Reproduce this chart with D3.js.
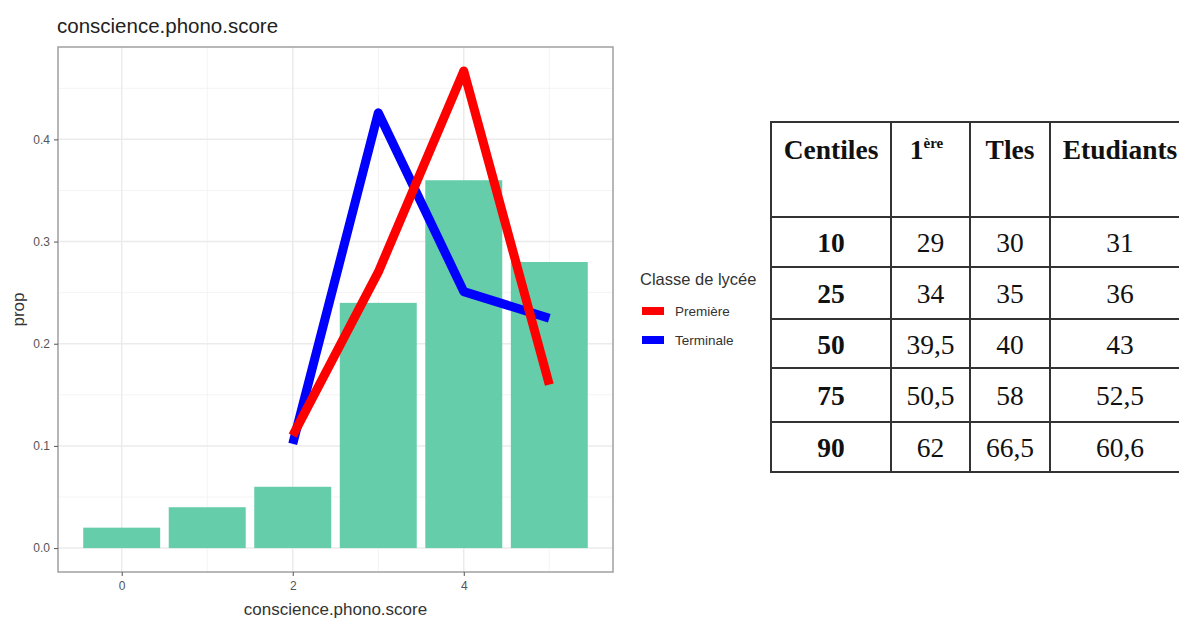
<!DOCTYPE html>
<html><head><meta charset="utf-8">
<script src="https://cdn.jsdelivr.net/npm/d3@7"></script>
<style>body{margin:0;background:#fff;} svg{display:block;}</style>
</head><body>
<svg id="c" width="1179" height="619"></svg>
<script>
// ---- data ----
const scores = [0, 1, 2, 3, 4, 5];
const barProps = [0.02, 0.04, 0.06, 0.24, 0.36, 0.28];
const lineScores = [2, 3, 4, 5];
const premiere = [0.11, 0.27, 0.467, 0.16];
const terminale = [0.102, 0.426, 0.251, 0.225];
const yTicks = [0, 0.1, 0.2, 0.3, 0.4];
const xTicks = [0, 2, 4];
const seriesNames = ["Première", "Terminale"];
const seriesColors = ["#FF0000", "#0000FF"];
const tableHeader = ["Centiles", "1", "Tles", "Etudiants"];
const centiles = ["10", "25", "50", "75", "90"];
const col1ere = ["29", "34", "39,5", "50,5", "62"];
const colTles = ["30", "35", "40", "58", "66,5"];
const colEtud = ["31", "36", "43", "52,5", "60,6"];

const svg = d3.select("#c");
const P = {l: 58, r: 613, t: 47, b: 572};
const x = d3.scaleLinear().domain([-0.745, 5.745]).range([P.l, P.r]);
const y = d3.scaleLinear().domain([-0.0234, 0.4904]).range([P.b, P.t]);
const sans = "Liberation Sans, Arial, sans-serif";

// minor grid
const xMinor = [1, 3, 5];
const yMinor = [0.05, 0.15, 0.25, 0.35, 0.45];
const g = svg.append("g");
g.selectAll(".mx").data(xMinor).enter().append("line")
  .attr("x1", d => x(d)).attr("x2", d => x(d)).attr("y1", P.t).attr("y2", P.b)
  .attr("stroke", "#F4F4F4").attr("stroke-width", 1);
g.selectAll(".my").data(yMinor).enter().append("line")
  .attr("y1", d => y(d)).attr("y2", d => y(d)).attr("x1", P.l).attr("x2", P.r)
  .attr("stroke", "#F4F4F4").attr("stroke-width", 1);
g.selectAll(".Mx").data(xTicks).enter().append("line")
  .attr("x1", d => x(d)).attr("x2", d => x(d)).attr("y1", P.t).attr("y2", P.b)
  .attr("stroke", "#EBEBEB").attr("stroke-width", 1.5);
g.selectAll(".My").data(yTicks).enter().append("line")
  .attr("y1", d => y(d)).attr("y2", d => y(d)).attr("x1", P.l).attr("x2", P.r)
  .attr("stroke", "#EBEBEB").attr("stroke-width", 1.5);

// bars
g.selectAll(".bar").data(scores).enter().append("rect")
  .attr("x", (d) => x(d - 0.45)).attr("width", x(0.45) - x(-0.45))
  .attr("y", (d, i) => y(barProps[i])).attr("height", (d, i) => y(0) - y(barProps[i]))
  .attr("fill", "#66CDAA");

// lines
const line = d3.line().x(d => x(d[0])).y(d => y(d[1]));
[terminale, premiere].forEach((vals, k) => {
  const col = k === 0 ? seriesColors[1] : seriesColors[0];
  g.append("path").datum(lineScores.map((s, i) => [s, vals[i]]))
    .attr("d", line).attr("fill", "none").attr("stroke", col)
    .attr("stroke-width", 9).attr("stroke-linejoin", "round").attr("stroke-linecap", "butt");
});

// panel border
g.append("rect").attr("x", P.l).attr("y", P.t).attr("width", P.r - P.l).attr("height", P.b - P.t)
  .attr("fill", "none").attr("stroke", "#A0A0A0").attr("stroke-width", 1.5);

// axes
const yAxis = svg.append("g").attr("transform", `translate(${P.l},0)`)
  .call(d3.axisLeft(y).tickValues(yTicks).tickFormat(d3.format(".1f")).tickSize(4).tickPadding(4));
const xAxis = svg.append("g").attr("transform", `translate(0,${P.b})`)
  .call(d3.axisBottom(x).tickValues(xTicks).tickFormat(d3.format("d")).tickSize(4).tickPadding(5));
[yAxis, xAxis].forEach(a => {
  a.select(".domain").remove();
  a.selectAll(".tick line").attr("stroke", "#555");
  a.selectAll(".tick text").attr("fill", "#555").style("font-family", sans).style("font-size", "12px");
});

// titles
svg.append("text").attr("x", 57).attr("y", 33).text("conscience.phono.score")
  .style("font-family", sans).style("font-size", "20.5px").attr("fill", "#222");
svg.append("text").attr("x", (P.l + P.r) / 2).attr("y", 615).attr("text-anchor", "middle").text("conscience.phono.score")
  .style("font-family", sans).style("font-size", "17px").attr("fill", "#333");
svg.append("text").attr("transform", `translate(24,${(P.t + P.b) / 2}) rotate(-90)`).attr("text-anchor", "middle").text("prop")
  .style("font-family", sans).style("font-size", "17px").attr("fill", "#333");

// legend
const lg = svg.append("g");
lg.append("text").attr("x", 640).attr("y", 285).text("Classe de lycée")
  .style("font-family", sans).style("font-size", "16.5px").attr("fill", "#333");
seriesNames.forEach((n, i) => {
  const yy = 311 + i * 29;
  lg.append("rect").attr("x", 642).attr("y", yy - 4).attr("width", 22).attr("height", 8).attr("fill", seriesColors[i]);
  lg.append("text").attr("x", 675).attr("y", yy + 5).text(n)
    .style("font-family", sans).style("font-size", "13.5px").attr("fill", "#333");
});

// table
const colX = [771, 891, 970, 1050, 1190];
const rowY = [122, 217, 267, 319, 368, 422, 472];
const tg = svg.append("g");
colX.forEach(cx => tg.append("line").attr("x1", cx).attr("x2", cx).attr("y1", rowY[0]).attr("y2", rowY[rowY.length - 1])
  .attr("stroke", "#333").attr("stroke-width", 2));
rowY.forEach(ry => tg.append("line").attr("x1", colX[0] - 1).attr("x2", colX[4]).attr("y1", ry).attr("y2", ry)
  .attr("stroke", "#333").attr("stroke-width", 2));
const serif = "Liberation Serif, Times New Roman, serif";
tableHeader.forEach((h, j) => {
  const cx = (colX[j] + colX[j + 1]) / 2;
  const t = tg.append("text").attr("x", cx + (j === 1 ? -4 : 0)).attr("y", 159).attr("text-anchor", "middle")
    .style("font-family", serif).style("font-size", "27.5px").style("font-weight", "bold").attr("fill", "#111").text(h);
  if (j === 1) t.append("tspan").attr("dy", -11).style("font-size", "15px").text("ère");
});
const cols = [centiles, col1ere, colTles, colEtud];
cols.forEach((col, j) => {
  const cx = (colX[j] + colX[j + 1]) / 2;
  col.forEach((v, i) => {
    tg.append("text").attr("x", cx).attr("y", (rowY[i + 1] + rowY[i + 2]) / 2 + 10).attr("text-anchor", "middle")
      .style("font-family", serif).style("font-size", "27.5px").style("font-weight", j === 0 ? "bold" : "normal")
      .attr("fill", "#111").text(v);
  });
});
</script>
</body></html>
